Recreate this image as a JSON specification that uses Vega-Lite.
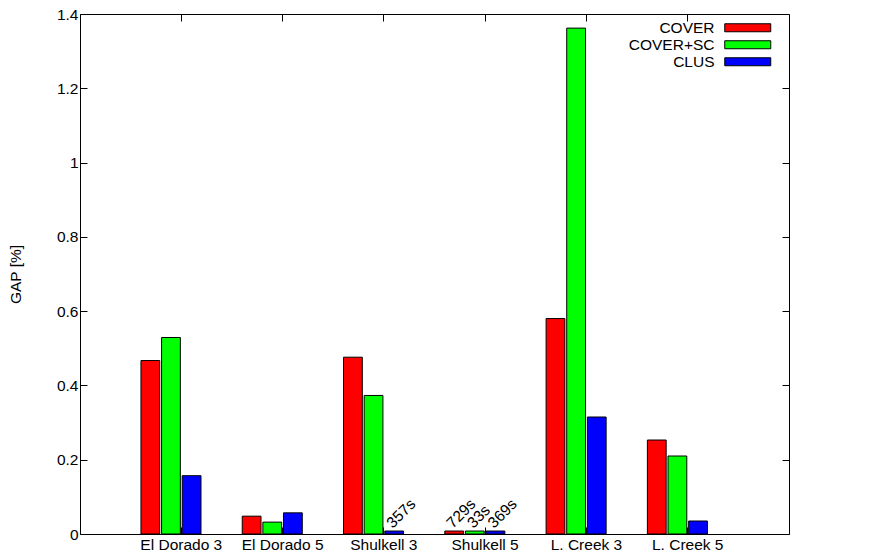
{
  "$schema": "https://vega.github.io/schema/vega-lite/v6.json",
  "width": 709,
  "height": 520,
  "autosize": "none",
  "padding": {"left": 80, "top": 14, "right": 96, "bottom": 25},
  "background": "#ffffff",
  "config": {
    "font": "Liberation Sans",
    "view": {"stroke": "#000000", "strokeWidth": 1},
    "axis": {
      "domain": false,
      "grid": false,
      "labelFont": "Liberation Sans",
      "labelFontSize": 15.5,
      "labelColor": "#000000",
      "tickColor": "#000000",
      "tickSize": -7,
      "tickWidth": 1,
      "titleFont": "Liberation Sans",
      "titleFontSize": 15.5,
      "titleFontWeight": "normal",
      "titleColor": "#000000"
    },
    "legend": {
      "orient": "none",
      "legendX": 660,
      "legendY": 6,
      "padding": 0,
      "rowPadding": 0,
      "symbolType": "M-5.75,-1H5.75V1H-5.75Z",
      "symbolSize": 64,
      "symbolStrokeColor": "#000000",
      "symbolStrokeWidth": 1,
      "symbolOpacity": 1,
      "labelAlign": "right",
      "labelOffset": -41,
      "labelFont": "Liberation Sans",
      "labelFontSize": 15.5,
      "labelColor": "#000000"
    }
  },
  "data": {
    "values": [
      {"dataset": "El Dorado 3", "method": "COVER", "gap": 0.467, "label": ""},
      {"dataset": "El Dorado 3", "method": "COVER+SC", "gap": 0.529, "label": ""},
      {"dataset": "El Dorado 3", "method": "CLUS", "gap": 0.157, "label": ""},
      {"dataset": "El Dorado 5", "method": "COVER", "gap": 0.048, "label": ""},
      {"dataset": "El Dorado 5", "method": "COVER+SC", "gap": 0.032, "label": ""},
      {"dataset": "El Dorado 5", "method": "CLUS", "gap": 0.057, "label": ""},
      {"dataset": "Shulkell 3", "method": "COVER", "gap": 0.476, "label": ""},
      {"dataset": "Shulkell 3", "method": "COVER+SC", "gap": 0.373, "label": ""},
      {"dataset": "Shulkell 3", "method": "CLUS", "gap": 0.008, "label": "357s"},
      {"dataset": "Shulkell 5", "method": "COVER", "gap": 0.008, "label": "729s"},
      {"dataset": "Shulkell 5", "method": "COVER+SC", "gap": 0.008, "label": "33s"},
      {"dataset": "Shulkell 5", "method": "CLUS", "gap": 0.008, "label": "369s"},
      {"dataset": "L. Creek 3", "method": "COVER", "gap": 0.580, "label": ""},
      {"dataset": "L. Creek 3", "method": "COVER+SC", "gap": 1.362, "label": ""},
      {"dataset": "L. Creek 3", "method": "CLUS", "gap": 0.315, "label": ""},
      {"dataset": "L. Creek 5", "method": "COVER", "gap": 0.253, "label": ""},
      {"dataset": "L. Creek 5", "method": "COVER+SC", "gap": 0.210, "label": ""},
      {"dataset": "L. Creek 5", "method": "CLUS", "gap": 0.035, "label": ""}
    ]
  },
  "layer": [
    {
      "mark": {"type": "bar", "stroke": "#000000", "strokeWidth": 1},
      "encoding": {
        "x": {
          "field": "dataset", "type": "nominal", "sort": null,
          "scale": {"paddingInner": 0, "paddingOuter": 0.5},
          "axis": {"orient": "bottom", "title": null, "labelAngle": 0, "labelPadding": 10}
        },
        "xOffset": {
          "field": "method", "type": "nominal", "sort": ["COVER", "COVER+SC", "CLUS"],
          "scale": {"domain": ["COVER", "COVER+SC", "CLUS"], "paddingInner": 0.09, "paddingOuter": 1.04, "align": 0.25}
        },
        "y": {
          "field": "gap", "type": "quantitative",
          "scale": {"domain": [0, 1.4]},
          "axis": {"orient": "left", "title": "GAP [%]", "values": [0, 0.2, 0.4, 0.6, 0.8, 1, 1.2, 1.4], "format": "~g", "labelPadding": 9, "titlePadding": 33}
        },
        "color": {
          "field": "method", "type": "nominal",
          "scale": {"domain": ["COVER", "COVER+SC", "CLUS"], "range": ["#ff0000", "#00ff00", "#0000ff"]},
          "legend": {"title": null}
        }
      }
    },
    {
      "mark": {"type": "text", "angle": -45, "align": "left", "baseline": "alphabetic", "dx": 0.5, "dy": -2.5, "fontSize": 15.5, "font": "Liberation Sans", "color": "#000000"},
      "encoding": {
        "x": {
          "field": "dataset", "type": "nominal", "sort": null,
          "axis": {"orient": "top", "labels": false, "title": null}
        },
        "xOffset": {
          "field": "method", "type": "nominal", "sort": ["COVER", "COVER+SC", "CLUS"]
        },
        "y": {
          "field": "gap", "type": "quantitative",
          "axis": {"orient": "right", "labels": false, "title": null, "values": [0, 0.2, 0.4, 0.6, 0.8, 1, 1.2, 1.4]}
        },
        "text": {"field": "label"}
      }
    }
  ],
  "resolve": {"axis": {"x": "independent", "y": "independent"}}
}
